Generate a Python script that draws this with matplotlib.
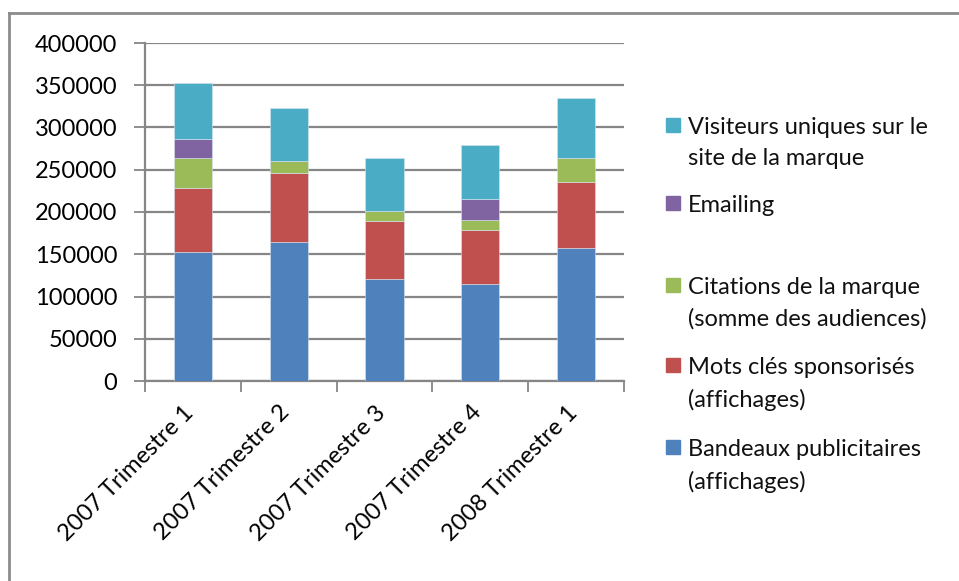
import numpy as np
import matplotlib.pyplot as plt
import matplotlib.transforms as mtransforms
from matplotlib.patches import Rectangle
from matplotlib.lines import Line2D

plt.rcParams['font.family'] = ['Lato', 'DejaVu Sans']

# trimestres
trimestres = ["2007 Trimestre 1", "2007 Trimestre 2", "2007 Trimestre 3",
              "2007 Trimestre 4", "2008 Trimestre 1"]

# audiences par levier (empilées de bas en haut)
bandeaux = [152700, 164100, 121100, 115200, 157800]
mots_cles = [75700, 82000, 68200, 63900, 77700]
citations = [35100, 14600, 11800, 11100, 28000]
emailing = [22900, 0, 0, 24800, 0]
visiteurs = [66300, 62700, 62300, 64700, 71000]

series = [
    ("Bandeaux publicitaires\n(affichages)", bandeaux, "#4F81BD"),
    ("Mots clés sponsorisés\n(affichages)", mots_cles, "#C0504D"),
    ("Citations de la marque\n(somme des audiences)", citations, "#9BBB59"),
    ("Emailing", emailing, "#8064A2"),
    ("Visiteurs uniques sur le\nsite de la marque", visiteurs, "#4BACC6"),
]

taille = 17
W, H = 959, 581
fig = plt.figure(figsize=(W / 100, H / 100), dpi=100)
ax = fig.add_axes([145 / W, 1 - 381 / H, 479 / W, 338 / H])

x = np.arange(len(trimestres))
bottom = np.zeros(len(trimestres))
for nom, vals, couleur in series:
    vals = np.array(vals, dtype=float)
    ax.bar(x, vals, width=0.4, bottom=bottom, color=couleur,
           edgecolor="#d9e4f0", linewidth=0.4, zorder=3)
    bottom += vals

gris = "#868686"
ax.set_xlim(-0.5, len(trimestres) - 0.5)
ax.set_ylim(0, 400000)
ax.set_yticks(np.arange(0, 400001, 50000))
ax.set_yticklabels([str(v) for v in range(0, 400001, 50000)], fontsize=taille)
ax.yaxis.grid(True, color=gris, linewidth=1.6, zorder=0)
ax.set_axisbelow(True)

# ticks de catégories aux limites, étiquettes au centre
ax.set_xticks(np.arange(-0.5, len(trimestres)), minor=False)
ax.set_xticklabels([])
ax.set_xticks(x, minor=True)
ax.set_xticklabels(trimestres, minor=True, rotation=45, ha="right",
                   va="top", fontsize=taille)
ax.tick_params(axis="x", which="major", direction="out", length=8,
               width=1.3, color=gris)
ax.tick_params(axis="x", which="minor", length=0, pad=15)
ax.tick_params(axis="y", direction="out", length=8, width=1.3, color=gris,
               pad=12)
decalage = mtransforms.ScaledTranslation(5 / 100, 0, fig.dpi_scale_trans)
for lab in ax.get_xticklabels(minor=True):
    lab.set_transform(lab.get_transform() + decalage)

for cote in ["top", "right"]:
    ax.spines[cote].set_visible(False)
for cote in ["left", "bottom"]:
    ax.spines[cote].set_color(gris)
    ax.spines[cote].set_linewidth(1.6)

# légende placée à la main, dans l'ordre inverse de l'empilement
legende = [
    (series[4], 125),
    (series[3], 203),
    (series[2], 285),
    (series[1], 365),
    (series[0], 447),
]
for (nom, _, couleur), yc in legende:
    fig.patches.append(Rectangle((666 / W, 1 - (yc + 7) / H), 14 / W, 14 / H,
                                 color=couleur, transform=fig.transFigure))
    fig.text(688 / W, 1 - (yc - 8) / H, nom, fontsize=taille,
             va="top", ha="left", linespacing=1.6, color="#111111")

# bordure de la zone de graphique
bord = "#8c8c8c"
fig.lines.append(Line2D([9 / W, 1], [1 - 13 / H, 1 - 13 / H], color=bord,
                        linewidth=2, transform=fig.transFigure))
fig.lines.append(Line2D([9 / W, 9 / W], [0, 1 - 13 / H], color=bord,
                        linewidth=2, transform=fig.transFigure))

fig.savefig("out.png", dpi=100)
